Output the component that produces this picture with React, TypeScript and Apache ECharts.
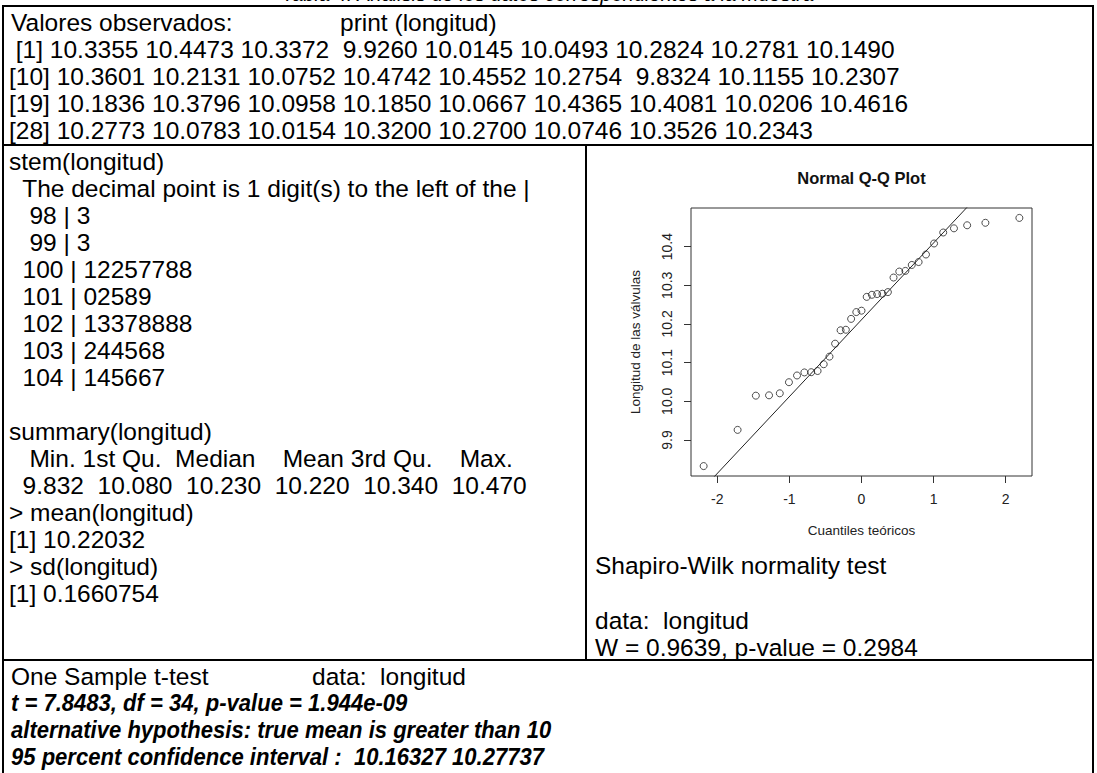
import React, { useEffect, useRef } from "react";
import * as echarts from "echarts";

// ---------- data ----------
const longitud = [
  10.3355, 10.4473, 10.3372, 9.926, 10.0145, 10.0493, 10.2824, 10.2781, 10.149,
  10.3601, 10.2131, 10.0752, 10.4742, 10.4552, 10.2754, 9.8324, 10.1155, 10.2307,
  10.1836, 10.3796, 10.0958, 10.185, 10.0667, 10.4365, 10.4081, 10.0206, 10.4616,
  10.2773, 10.0783, 10.0154, 10.32, 10.27, 10.0746, 10.3526, 10.2343,
];
const sortedLongitud = [
  9.8324, 9.926, 10.0145, 10.0154, 10.0206, 10.0493, 10.0667, 10.0746, 10.0752,
  10.0783, 10.0958, 10.1155, 10.149, 10.1836, 10.185, 10.2131, 10.2307, 10.2343,
  10.27, 10.2754, 10.2773, 10.2781, 10.2824, 10.32, 10.3355, 10.3372, 10.3526,
  10.3601, 10.3796, 10.4081, 10.4365, 10.4473, 10.4552, 10.4616, 10.4742,
];
const theoreticalQuantiles = [
  -2.189, -1.718, -1.465, -1.282, -1.133, -1.006, -0.894, -0.792, -0.697, -0.609,
  -0.524, -0.444, -0.366, -0.29, -0.217, -0.144, -0.072, 0, 0.072, 0.144, 0.217,
  0.29, 0.366, 0.444, 0.524, 0.609, 0.697, 0.792, 0.894, 1.006, 1.133, 1.282,
  1.465, 1.718, 2.189,
];
const qqLineX = [-0.6745, 0.6745];
const qqLineY = [10.07675, 10.3449];
const xTicks = [-2, -1, 0, 1, 2];
const yTicks = [9.9, 10.0, 10.1, 10.2, 10.3, 10.4];
const stems = ["98", "99", "100", "101", "102", "103", "104"];
const leaves = ["3", "3", "12257788", "02589", "13378888", "244568", "145667"];
const summaryNames = ["Min.", "1st Qu.", "Median", "Mean", "3rd Qu.", "Max."];
const summaryValues = ["9.832", "10.080", "10.230", "10.220", "10.340", "10.470"];
const meanValue = "10.22032";
const sdValue = "0.1660754";
const shapiroW = "0.9639";
const shapiroP = "0.2984";
const tTestLines = [
  "t = 7.8483, df = 34, p-value = 1.944e-09",
  "alternative hypothesis: true mean is greater than 10",
  "95 percent confidence interval :  10.16327 10.27737",
];

// ---------- layout ----------
const FF = '"Liberation Sans", Arial, Helvetica, sans-serif';
const FS = 24.5;
const LH = 27;
const LEFT = 3;
const RIGHT = 1093;
const TOP = 6;
const ROW1B = 145;
const ROW2B = 660;
const DIV = 586;
const TX = 9;

function T(x: number, y: number, text: string, o: any = {}) {
  return {
    type: "text",
    x,
    y,
    silent: true,
    scaleX: o.sx ?? 1,
    style: {
      text,
      fill: o.color ?? "#000",
      fontSize: o.size ?? FS,
      fontFamily: FF,
      fontWeight: o.weight ?? "normal",
      fontStyle: o.style ?? "normal",
      textAlign: o.align ?? "left",
      align: o.align ?? "left",
      textVerticalAlign: "middle",
      verticalAlign: "middle",
    },
  };
}
function L(x1: number, y1: number, x2: number, y2: number, w = 2) {
  return {
    type: "line",
    silent: true,
    shape: { x1, y1, x2, y2 },
    style: { stroke: "#000", lineWidth: w },
  };
}

export default function App() {
  const ref = useRef<HTMLDivElement>(null);
  useEffect(() => {
    if (!ref.current) return;
    const chart = echarts.init(ref.current, undefined, { renderer: "svg" });

    // printed values
    const printLines: string[] = [];
    for (let i = 0; i < longitud.length; i += 9) {
      const idx = ("[" + (i + 1) + "]").padStart(4, " ");
      const vals = longitud
        .slice(i, i + 9)
        .map((v) => v.toFixed(4).padStart(7, " "))
        .join(" ");
      printLines.push(idx + " " + vals);
    }
    const r1y = 22;
    const row1: any[] = [
      T(TX + 2, r1y, "Valores observados:"),
      T(340, r1y, "print (longitud)"),
    ];
    printLines.forEach((s, i) => row1.push(T(TX, r1y + LH * (i + 1), s)));

    // row 2 left
    const r2y = 161;
    const leftLines: string[] = [
      "stem(longitud)",
      "  The decimal point is 1 digit(s) to the left of the |",
      ...stems.map((s, i) => s.padStart(5, " ") + " | " + leaves[i]),
      "",
      "summary(longitud)",
      "   " + summaryNames.map((n) => n.padStart(7, " ")).join(" ").trimStart(),
      summaryValues.map((v) => v.padStart(7, " ")).join(" "),
      "> mean(longitud)",
      "[1] " + meanValue,
      "> sd(longitud)",
      "[1] " + sdValue,
    ];
    const row2: any[] = [];
    leftLines.forEach((s, i) => {
      if (s) row2.push(T(TX, r2y + LH * i, s));
    });

    // row 2 right
    const rx = DIV + 9;
    row2.push(T(rx, 565, "Shapiro-Wilk normality test"));
    row2.push(T(rx, 620, "data:  longitud"));
    row2.push(T(rx, 647, "W = " + shapiroW + ", p-value = " + shapiroP));
    row2.push(T(861.5, 178, "Normal Q-Q Plot", { size: 16.5, weight: "bold", align: "center", color: "#111" }));

    // row 3
    const r3y = 676;
    const row3: any[] = [
      T(TX + 2, r3y, "One Sample t-test"),
      T(312, r3y, "data:  longitud"),
    ];
    tTestLines.forEach((s, i) =>
      row3.push(T(TX + 2, r3y + LH * (i + 1), s, { weight: "bold", style: "italic", sx: 0.9 }))
    );

    // caption above the table, mostly cut off by the page edge
    const caption = T(548, -6, "Tabla 4. Análisis de los datos correspondientes a la muestra", {
      style: "italic",
      align: "center",
      size: 20,
    });

    const borders = [
      L(LEFT - 1, TOP, RIGHT + 1, TOP),
      L(LEFT, TOP, LEFT, 780),
      L(RIGHT, TOP, RIGHT, 780),
      L(LEFT, ROW1B, RIGHT, ROW1B),
      L(LEFT, ROW2B, RIGHT, ROW2B),
      L(DIV, ROW1B, DIV, ROW2B),
    ];

    // Q-Q plot ranges (R: 4% extension)
    const xr = [theoreticalQuantiles[0], theoreticalQuantiles[theoreticalQuantiles.length - 1]];
    const yr = [sortedLongitud[0], sortedLongitud[sortedLongitud.length - 1]];
    const xe = (xr[1] - xr[0]) * 0.04;
    const ye = (yr[1] - yr[0]) * 0.04;
    const slope = (qqLineY[1] - qqLineY[0]) / (qqLineX[1] - qqLineX[0]);
    const inter = qqLineY[0] - slope * qqLineX[0];
    const linePts = [
      [-3, inter + slope * -3],
      [3, inter + slope * 3],
    ];
    const pts = theoreticalQuantiles.map((q, i) => [q, sortedLongitud[i]]);
    const axisCol = "#333";
    const lblStyle = { fontSize: 14, color: "#222", fontFamily: FF };

    chart.setOption({
      animation: false,
      backgroundColor: "#fff",
      grid: {
        left: 691,
        top: 208,
        width: 341,
        height: 268,
        show: true,
        borderColor: axisCol,
        borderWidth: 1,
        backgroundColor: "transparent",
      },
      xAxis: {
        type: "value",
        min: xr[0] - xe,
        max: xr[1] + xe,
        axisLine: { show: false, onZero: false },
        splitLine: { show: false },
        axisTick: { show: true, customValues: xTicks, length: 7, lineStyle: { color: axisCol } },
        axisLabel: { customValues: xTicks, margin: 16, ...lblStyle },
        name: "Cuantiles teóricos",
        nameLocation: "middle",
        nameGap: 47,
        nameTextStyle: { ...lblStyle, fontSize: 13.5 },
      },
      yAxis: {
        type: "value",
        min: yr[0] - ye,
        max: yr[1] + ye,
        axisLine: { show: false, onZero: false },
        splitLine: { show: false },
        axisTick: { show: true, customValues: yTicks, length: 7, lineStyle: { color: axisCol } },
        axisLabel: {
          customValues: yTicks,
          rotate: 90,
          margin: 17,
          formatter: (v: number) => v.toFixed(1),
          ...lblStyle,
        },
        name: "Longitud de las válvulas",
        nameLocation: "middle",
        nameGap: 49,
        nameRotate: 90,
        nameTextStyle: { ...lblStyle, fontSize: 13.5 },
      },
      series: [
        {
          type: "scatter",
          data: pts,
          symbol: "circle",
          symbolSize: 7,
          itemStyle: { color: "rgba(0,0,0,0)", borderColor: "#222", borderWidth: 1 },
        },
        {
          type: "line",
          data: linePts,
          showSymbol: false,
          clip: true,
          lineStyle: { color: "#222", width: 1 },
        },
      ],
      graphic: { elements: [caption, ...borders, ...row1, ...row2, ...row3] },
    });
    return () => chart.dispose();
  }, []);
  return (
    <div
      ref={ref}
      style={{ position: "absolute", left: 0, top: 0, width: 1097, height: 773, background: "#fff" }}
    />
  );
}
